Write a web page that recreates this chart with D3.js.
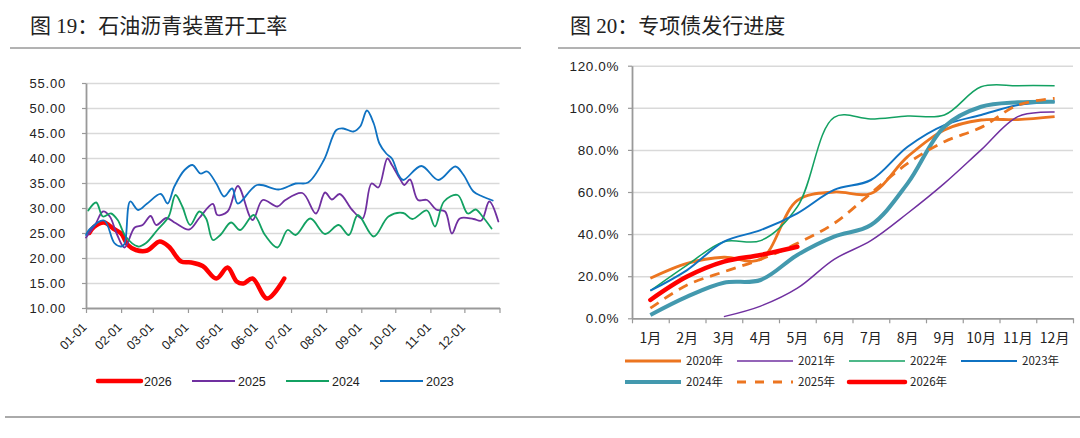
<!DOCTYPE html>
<html>
<head>
<meta charset="utf-8">
<script src="https://cdn.jsdelivr.net/npm/d3@7"></script>
<style>
  body { margin: 0; background: #fff; }
  svg { display: block; }
  text { font-family: "Liberation Sans", Arial, sans-serif; fill: #222; }
  .cjk { font-family: "Noto Sans CJK SC", sans-serif; }
  .title { font-family: "Liberation Serif", "Noto Sans CJK SC", serif; }
</style>
</head>
<body>
<script>
// ---- left chart data: 石油沥青装置开工率 (%), weekly ----
var leftMonths = ["01-01","02-01","03-01","04-01","05-01","06-01","07-01","08-01","09-01","10-01","11-01","12-01"];
var leftTicks = [10, 15, 20, 25, 30, 35, 40, 45, 50, 55];
var leftNames = ["2026", "2025", "2024", "2023"];

var rate2026 = [["01-04",25.0],["01-08",26.2],["01-17",27.1],["01-25",25.9],["02-01",24.9],["02-07",22.6],
  ["02-14",21.6],["02-24",21.5],["03-07",23.3],["03-15",22.3],["03-26",19.3],["04-04",19.1],["04-14",18.4],
  ["04-26",15.9],["05-06",18.1],["05-14",15.3],["05-20",14.9],["05-28",15.9],["06-10",11.9],["06-25",15.9]];

var rate2025 = [["01-01",24.1],["01-09",26.6],["01-16",29.3],["01-22",28.3],["01-28",24.9],["02-04",22.1],
  ["02-13",26.1],["02-20",26.6],["02-27",28.4],["03-04",26.6],["03-13",28.0],["03-21",27.0],["04-02",25.7],
  ["04-11",28.0],["04-23",30.8],["04-27",28.6],["05-06",29.3],["05-15",34.4],["05-28",27.6],["06-06",31.6],
  ["06-19",30.3],["06-26",31.6],["07-11",33.0],["07-23",28.9],["07-31",33.1],["08-06",31.7],["08-13",32.8],
  ["08-24",29.6],["09-02",27.9],["09-10",34.9],["09-16",34.1],["09-24",39.9],["09-28",38.6],["10-05",35.9],
  ["10-09",34.6],["10-14",35.7],["10-21",31.6],["10-29",31.6],["11-06",29.7],["11-14",29.3],["11-20",24.9],
  ["11-27",27.9],["12-09",27.8],["12-16",27.5],["12-23",31.3],["12-31",27.3]];

var rate2024 = [["01-03",29.5],["01-10",31.1],["01-16",28.3],["01-23",28.9],["01-29",27.6],["02-05",24.3],
  ["02-16",22.3],["02-23",23.0],["03-05",25.6],["03-15",28.3],["03-21",32.6],["03-27",30.3],["04-03",26.6],
  ["04-11",29.3],["04-17",27.9],["04-23",23.6],["04-30",24.7],["05-09",27.1],["05-17",25.6],["05-29",28.6],
  ["06-08",24.6],["06-19",22.1],["06-28",25.6],["07-05",24.6],["07-18",27.9],["07-31",24.8],["08-12",26.6],
  ["08-21",24.6],["08-29",28.6],["09-12",24.3],["09-25",28.3],["10-08",29.0],["10-16",27.8],["10-29",29.5],
  ["11-05",26.3],["11-13",31.3],["11-25",32.6],["12-04",28.9],["12-11",29.7],["12-17",28.3],["12-25",25.9]];

var rate2023 = [["01-01",24.6],["01-04",25.7],["01-17",27.5],["01-26",23.0],["02-01",22.3],["02-04",22.8],
  ["02-09",31.3],["02-16",29.6],["02-24",30.9],["03-08",32.8],["03-14",30.9],["03-20",34.3],["03-29",37.6],
  ["04-05",38.6],["04-12",36.9],["04-18",37.3],["04-26",34.9],["05-03",32.3],["05-10",33.9],["05-15",30.9],
  ["06-01",34.6],["06-20",33.7],["07-05",34.9],["07-16",35.1],["07-30",39.6],["08-10",45.6],["08-16",45.9],
  ["08-25",45.3],["08-31",46.3],["09-06",49.5],["09-12",46.9],["09-17",42.9],["09-23",40.9],["09-28",39.9],
  ["10-04",36.6],["10-08",35.6],["10-24",38.4],["11-08",35.6],["11-23",38.3],["11-30",36.7],["12-09",33.3],
  ["12-17",32.3],["12-26",31.5]];

// ---- right chart data: 专项债发行进度 (%), monthly ----
var rightMonths = ["1月","2月","3月","4月","5月","6月","7月","8月","9月","10月","11月","12月"];
var rightTicks = [0, 20, 40, 60, 80, 100, 120];
var rightNames = ["2020年","2021年","2022年","2023年","2024年","2025年","2026年"];

var prog2020 = [19.0, 26.1, 29.0, 28.0, 56.0, 60.0, 59.3, 76.8, 89.5, 94.2, 94.4, 95.8];
var prog2021 = [null, null, 0.8, 5.8, 14.3, 28.0, 36.9, 49.9, 64.1, 80.0, 95.8, 98.0];
var prog2022 = [13.1, 25.3, 36.4, 36.9, 53.0, 95.5, 94.7, 96.1, 96.6, 110.0, 110.5, 110.5];
var prog2023 = [13.1, 22.9, 36.4, 41.9, 49.9, 61.0, 65.7, 81.5, 91.8, 96.6, 101.3, 102.9];
var prog2024 = [1.6, 10.3, 16.9, 18.2, 30.1, 38.8, 44.3, 64.1, 91.0, 100.5, 102.6, 102.9];
var prog2025 = [4.8, 15.8, 22.1, 28.0, 35.6, 45.1, 59.4, 73.6, 83.9, 90.7, 101.3, 104.5];
var prog2026 = [8.7, 19.8, 26.9, 30.1, 34.0];

// ---- styles ----
var leftStyle = {
  "2026": { color: "#FF0000", width: 4.5 },
  "2025": { color: "#7030A0", width: 1.8 },
  "2024": { color: "#13A162", width: 1.8 },
  "2023": { color: "#0F72C2", width: 1.8 }
};
var rightStyle = {
  "2020年": { color: "#EC7520", width: 2.8 },
  "2021年": { color: "#7030A0", width: 1.5 },
  "2022年": { color: "#13A162", width: 1.5 },
  "2023年": { color: "#0F72C2", width: 2 },
  "2024年": { color: "#4399AE", width: 4 },
  "2025年": { color: "#EC7520", width: 2.8, dash: "10,7" },
  "2026年": { color: "#FF0000", width: 4.5 }
};

var svg = d3.select("body").append("svg")
  .attr("width", 1080)
  .attr("height", 438);

// titles and separators
svg.append("text").attr("class", "title").attr("x", 30).attr("y", 33)
  .style("font-size", "21px").text("图 19：石油沥青装置开工率");
svg.append("text").attr("class", "title").attr("x", 570).attr("y", 33)
  .style("font-size", "21px").text("图 20：专项债发行进度");
svg.append("line").attr("x1", 10).attr("x2", 521).attr("y1", 48).attr("y2", 48)
  .attr("stroke", "#666").attr("stroke-width", 1);
svg.append("line").attr("x1", 558).attr("x2", 1080).attr("y1", 48).attr("y2", 48)
  .attr("stroke", "#666").attr("stroke-width", 1);
svg.append("line").attr("x1", 5).attr("x2", 1080).attr("y1", 417).attr("y2", 417)
  .attr("stroke", "#aaa").attr("stroke-width", 2);

// ================= left chart =================
var parseMD = function (md) { return d3.timeParse("%Y-%m-%d")("2021-" + md); };
var lx0 = 86, lx1 = 499.5, ly0 = 308, ly1 = 83;

var x = d3.scaleTime()
  .domain([parseMD("01-01"), d3.timeParse("%Y-%m-%d")("2022-01-01")])
  .range([lx0, lx1]);
var y = d3.scaleLinear().domain([10, 55]).range([ly0, ly1]);

var left = svg.append("g");

// gridlines
left.append("g")
  .attr("transform", "translate(" + lx0 + ",0)")
  .call(d3.axisLeft(y).tickValues(leftTicks.slice(1)).tickSize(-(lx1 - lx0)).tickFormat(""))
  .call(function (g) { g.select(".domain").remove(); })
  .selectAll("line").attr("stroke", "#d9d9d9").attr("stroke-width", 1.5);

// y axis
left.append("g")
  .attr("transform", "translate(" + lx0 + ",0)")
  .call(d3.axisLeft(y).tickValues(leftTicks).tickSizeInner(4).tickSizeOuter(0)
    .tickPadding(16).tickFormat(d3.format(".2f")))
  .call(function (g) {
    g.select(".domain").attr("stroke", "#999").attr("stroke-width", 1.8);
    g.selectAll("line").attr("stroke", "#999").attr("stroke-width", 1.2);
    g.selectAll("text").style("font-size", "13px").style("letter-spacing", "0.8px").attr("fill", "#222");
  });

// x axis
var tickDates = leftMonths.map(parseMD).concat([x.domain()[1]]);
left.append("g")
  .attr("transform", "translate(0," + ly0 + ")")
  .call(d3.axisBottom(x).tickValues(tickDates).tickSizeInner(5).tickSizeOuter(0)
    .tickFormat(function (d, i) { return i < leftMonths.length ? leftMonths[i] : ""; }))
  .call(function (g) {
    g.select(".domain").attr("stroke", "#999").attr("stroke-width", 1.8);
    g.selectAll("line").attr("stroke", "#999").attr("stroke-width", 1.2);
    g.selectAll("text")
      .attr("x", 0).attr("y", 0).attr("dy", 0)
      .attr("transform", "translate(1,20) rotate(-45)")
      .style("text-anchor", "end")
      .style("font-size", "12.5px")
      .attr("fill", "#222");
  });

var leftSeries = { "2026": rate2026, "2025": rate2025, "2024": rate2024, "2023": rate2023 };
var leftLine = d3.line()
  .x(function (d) { return x(parseMD(d[0])); })
  .y(function (d) { return y(d[1]); })
  .curve(d3.curveCatmullRom.alpha(0.5));

leftNames.forEach(function (name) {
  var st = leftStyle[name];
  left.append("path")
    .datum(leftSeries[name])
    .attr("fill", "none")
    .attr("stroke", st.color)
    .attr("stroke-width", st.width)
    .attr("stroke-linecap", "round")
    .attr("stroke-linejoin", "round")
    .attr("d", leftLine);
});

// left legend
var legL = left.append("g").attr("transform", "translate(98,381)");
leftNames.forEach(function (name, i) {
  var st = leftStyle[name];
  var g = legL.append("g").attr("transform", "translate(" + (i * 94) + ",0)");
  g.append("line").attr("x1", 0).attr("x2", 43).attr("y1", 0).attr("y2", 0)
    .attr("stroke", st.color).attr("stroke-width", st.width)
    .attr("stroke-linecap", name === "2026" ? "round" : "butt");
  g.append("text").attr("x", 46).attr("y", 4.5).style("font-size", "12.5px").text(name);
});

// ================= right chart =================
var rx0 = 632, rx1 = 1073, ry0 = 318.3, ry1 = 65.7;
var xb = d3.scaleBand().domain(rightMonths).range([rx0, rx1]).paddingInner(0).paddingOuter(0);
var yr = d3.scaleLinear().domain([0, 120]).range([ry0, ry1]);

var right = svg.append("g");

right.append("g")
  .attr("transform", "translate(" + rx0 + ",0)")
  .call(d3.axisLeft(yr).tickValues(rightTicks.slice(1)).tickSize(-(rx1 - rx0)).tickFormat(""))
  .call(function (g) { g.select(".domain").remove(); })
  .selectAll("line").attr("stroke", "#d9d9d9").attr("stroke-width", 1.5);

right.append("g")
  .attr("transform", "translate(" + rx0 + ",0)")
  .call(d3.axisLeft(yr).tickValues(rightTicks).tickSizeInner(4).tickSizeOuter(0)
    .tickPadding(9).tickFormat(function (d) { return d3.format(".1f")(d) + "%"; }))
  .call(function (g) {
    g.select(".domain").attr("stroke", "#999").attr("stroke-width", 1.8);
    g.selectAll("line").attr("stroke", "#999").attr("stroke-width", 1.2);
    g.selectAll("text").style("font-size", "13.5px").style("letter-spacing", "0.6px").attr("fill", "#222");
  });

// x axis: ticks at band edges, labels at band centres
var edgeScale = d3.scaleLinear().domain([0, rightMonths.length]).range([rx0, rx1]);
right.append("g")
  .attr("transform", "translate(0," + ry0 + ")")
  .call(d3.axisBottom(edgeScale).tickValues(d3.range(rightMonths.length + 1))
    .tickSizeInner(5).tickSizeOuter(0).tickFormat(""))
  .call(function (g) {
    g.select(".domain").attr("stroke", "#999").attr("stroke-width", 1.8);
    g.selectAll("line").attr("stroke", "#999").attr("stroke-width", 1.2);
  });
right.append("g").selectAll("text")
  .data(rightMonths)
  .enter().append("text")
  .attr("class", "cjk")
  .attr("x", function (d) { return xb(d) + xb.bandwidth() / 2; })
  .attr("y", 343)
  .style("text-anchor", "middle")
  .style("font-size", "14px")
  .text(function (d) { return d; });

var rightSeries = {
  "2020年": prog2020, "2021年": prog2021, "2022年": prog2022, "2023年": prog2023,
  "2024年": prog2024, "2025年": prog2025, "2026年": prog2026
};
var rightLine = d3.line()
  .defined(function (d) { return d != null; })
  .x(function (d, i) { return xb(rightMonths[i]) + xb.bandwidth() / 2; })
  .y(function (d) { return yr(d); })
  .curve(d3.curveCatmullRom.alpha(0.5));

rightNames.forEach(function (name) {
  var st = rightStyle[name];
  right.append("path")
    .datum(rightSeries[name])
    .attr("fill", "none")
    .attr("stroke", st.color)
    .attr("stroke-width", st.width)
    .attr("stroke-dasharray", st.dash || null)
    .attr("stroke-linecap", name === "2026年" ? "round" : "butt")
    .attr("stroke-linejoin", "round")
    .attr("d", rightLine);
});

// right legend (two rows of four)
var legR = right.append("g").attr("transform", "translate(625,361)");
rightNames.forEach(function (name, i) {
  var st = rightStyle[name];
  var g = legR.append("g")
    .attr("transform", "translate(" + ((i % 4) * 112) + "," + (Math.floor(i / 4) * 21) + ")");
  g.append("line").attr("x1", 0).attr("x2", 56).attr("y1", 0).attr("y2", 0)
    .attr("stroke", st.color).attr("stroke-width", st.width)
    .attr("stroke-dasharray", st.dash ? "9,9" : null)
    .attr("stroke-linecap", name === "2026年" ? "round" : "butt");
  g.append("text").attr("class", "cjk").attr("x", 61).attr("y", 4).style("font-size", "11.5px").text(name);
});
</script>
</body>
</html>
